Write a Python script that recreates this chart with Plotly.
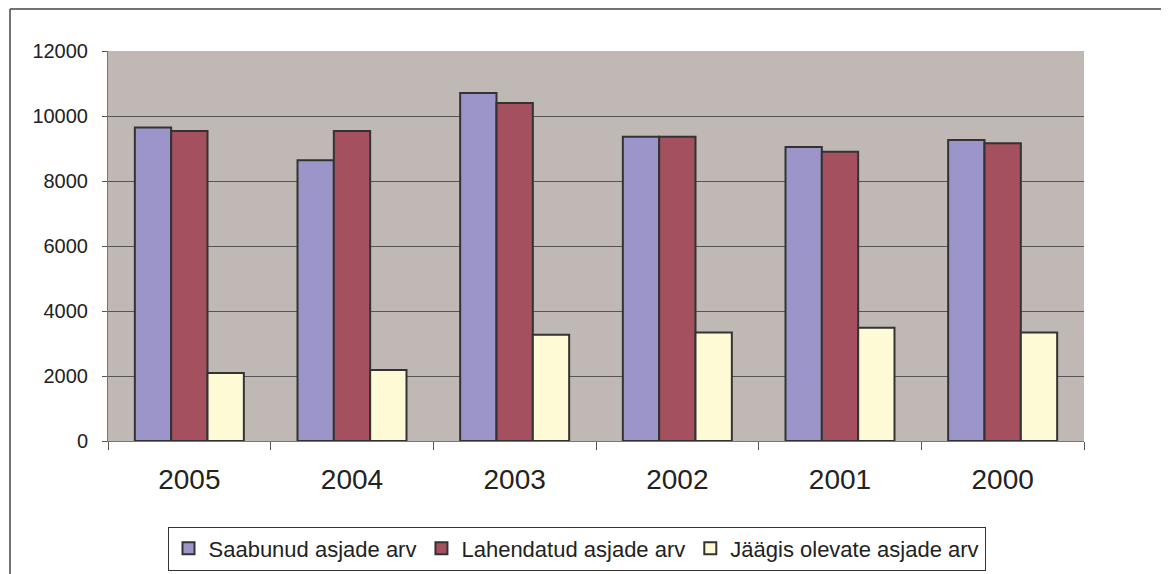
import plotly.graph_objects as go

years = ["2005", "2004", "2003", "2002", "2001", "2000"]
saabunud = [9650, 8640, 10710, 9360, 9050, 9260]
lahendatud = [9540, 9540, 10400, 9360, 8900, 9160]
jaagis = [2090, 2185, 3270, 3335, 3485, 3335]

series_names = ["Saabunud asjade arv", "Lahendatud asjade arv", "Jäägis olevate asjade arv"]
colors = ["#9B95C9", "#A5505F", "#FFFAD6"]

fig = go.Figure()
for name, vals, col in zip(series_names, [saabunud, lahendatud, jaagis], colors):
    fig.add_trace(go.Bar(
        x=years, y=vals, name=name,
        marker=dict(color=col, line=dict(color="#333333", width=2)),
    ))

OFF = 8  # page body margin
W, H = 1169 - OFF, 574 - OFF
L, R, T = 108 - OFF, 85, 51 - OFF
B = H - (441.5 - OFF)
fig.update_layout(
    width=W, height=H,
    margin=dict(l=L, r=R, t=T, b=B, pad=0),
    paper_bgcolor="white",
    plot_bgcolor="#C0B8B5",
    barmode="group",
    bargap=0.33,
    bargroupgap=0,
    font=dict(family="Liberation Sans, Arial, sans-serif", color="#222222"),
    showlegend=True,
    legend=dict(
        orientation="h",
        xref="container", yref="container",
        x=(576.5 - OFF) / W, y=1 - (548.5 - OFF) / H,
        xanchor="center", yanchor="middle",
        bordercolor="#333333", borderwidth=1,
        font=dict(size=22, color="#222222"),
        itemwidth=30,
        tracegroupgap=0,
        traceorder="normal",
    ),
)
fig.update_xaxes(
    type="category",
    showline=True, linecolor="#777777", linewidth=1,
    ticks="outside", tickson="boundaries", ticklen=8, tickcolor="#555555",
    tickfont=dict(size=28, color="#222222"),
    ticklabelstandoff=13,
    showgrid=False,
    automargin=False,
)
fig.update_yaxes(
    range=[0, 12000], dtick=2000, tickformat="d",
    showline=True, linecolor="#777777", linewidth=1,
    ticks="outside", ticklen=5, tickcolor="#555555",
    tickfont=dict(size=20, color="#222222"),
    ticklabelstandoff=10,
    showgrid=True, gridcolor="#555555", gridwidth=1,
    zeroline=False,
    automargin=False,
)

# Outer chart frame (extends beyond the window on right and bottom)
pw = W - L - R
ph = H - T - B
def px_x(p):
    return (p - OFF - L) / pw
def px_y(p):
    return (H - B - (p - OFF)) / ph
fig.add_shape(type="line", xref="paper", yref="paper",
              x0=px_x(10), x1=px_x(1169 + 20), y0=px_y(9), y1=px_y(9),
              line=dict(color="#444444", width=1.5))
fig.add_shape(type="line", xref="paper", yref="paper",
              x0=px_x(10), x1=px_x(10), y0=px_y(9), y1=px_y(574 + 20),
              line=dict(color="#444444", width=1.5))

fig.write_html("out.html")
